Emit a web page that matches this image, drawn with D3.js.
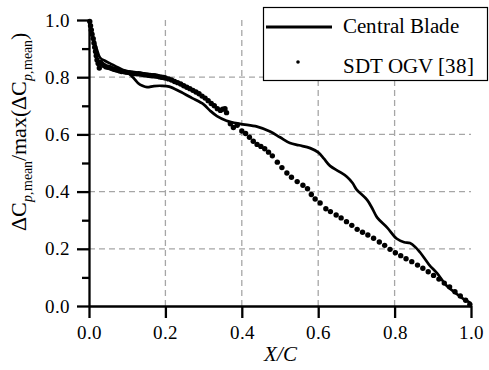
<!DOCTYPE html>
<html><head><meta charset="utf-8">
<script src="https://cdn.jsdelivr.net/npm/d3@7"></script>
<style>
@font-face{font-family:"RefSerif";font-style:normal;font-weight:400;src:local("Liberation Serif"),local("LiberationSerif"),local("Liberation Serif Regular"),local("Tinos"),local("DejaVu Serif"),local("DejaVuSerif");}
@font-face{font-family:"RefSerif";font-style:italic;font-weight:400;src:local("Liberation Serif Italic"),local("LiberationSerif-Italic"),local("DejaVu Serif Italic"),local("DejaVuSerif-Italic");}
html,body{margin:0;padding:0;background:#fff;}
svg{display:block;}
svg text{font-family:"RefSerif","Liberation Serif",serif;}
</style>
</head><body>
<svg id="chart" width="489" height="370"></svg>
<script>
// ---- data ----
const xTicks = [0.0, 0.2, 0.4, 0.6, 0.8, 1.0];
const yTicks = [0.0, 0.2, 0.4, 0.6, 0.8, 1.0];
const yMinorTicks = [0.1, 0.3, 0.5, 0.7, 0.9];
const seriesNames = ["Central Blade", "SDT OGV [38]"];

const bladeX = [0.0,0.005,0.012,0.02,0.029,0.045,0.06,0.086,0.105,0.118,0.128,0.14,0.152,0.17,0.19,0.21,0.238,0.27,0.30,0.317,0.335,0.36,0.395,0.44,0.474,0.50,0.526,0.55,0.579,0.60,0.615,0.631,0.655,0.675,0.69,0.70,0.728,0.742,0.754,0.78,0.806,0.825,0.84,0.855,0.867,0.89,0.911,0.937,0.96,0.98,1.0];
const bladeY = [1.0,0.97,0.935,0.90,0.868,0.855,0.845,0.827,0.812,0.795,0.78,0.77,0.765,0.769,0.77,0.767,0.75,0.727,0.705,0.683,0.664,0.648,0.637,0.627,0.61,0.59,0.57,0.562,0.552,0.537,0.515,0.49,0.47,0.452,0.43,0.408,0.371,0.34,0.31,0.275,0.235,0.223,0.22,0.205,0.187,0.145,0.115,0.07,0.045,0.025,0.01];

const sdtX = [0.002,0.004,0.006,0.008,0.011,0.013,0.015,0.017,0.019,0.021,0.024,0.027,0.03,0.035,0.04,0.045,0.05,0.055,0.06,0.065,0.07,0.075,0.08,0.085,0.09,0.095,0.10,0.105,0.11,0.115,0.12,0.125,0.13,0.135,0.14,0.145,0.15,0.155,0.16,0.165,0.17,0.175,0.18,0.185,0.19,0.195,
  0.20,0.208,0.216,0.224,0.232,0.24,0.248,0.256,0.264,0.272,0.28,0.288,0.296,0.304,0.312,0.32,0.328,0.336,0.344,0.35,0.356,0.36,
  0.37,0.378,0.388,0.40,0.41,0.42,0.43,0.44,0.45,0.46,0.47,
  0.48,0.493,0.505,0.518,0.53,0.545,0.56,0.572,0.582,0.592,0.605,0.62,0.632,0.647,0.66,0.674,0.688,0.702,0.716,0.73,0.745,0.76,0.774,0.788,0.802,0.816,0.83,0.845,0.86,0.874,0.888,0.902,0.916,0.93,0.944,0.958,0.972,0.986,0.997];
const sdtY = [0.995,0.98,0.965,0.95,0.935,0.92,0.905,0.89,0.875,0.86,0.848,0.832,0.852,0.845,0.84,0.836,0.835,0.833,0.83,0.828,0.826,0.824,0.822,0.82,0.82,0.818,0.817,0.816,0.815,0.814,0.813,0.812,0.812,0.811,0.81,0.809,0.808,0.807,0.806,0.805,0.805,0.804,0.803,0.801,0.80,0.799,
  0.797,0.794,0.79,0.785,0.781,0.776,0.77,0.765,0.76,0.754,0.748,0.742,0.734,0.727,0.718,0.708,0.70,0.69,0.684,0.688,0.69,0.676,
  0.637,0.624,0.632,0.612,0.603,0.59,0.576,0.565,0.558,0.55,0.538,
  0.525,0.503,0.484,0.465,0.45,0.435,0.422,0.41,0.39,0.374,0.36,0.34,0.33,0.318,0.308,0.295,0.282,0.268,0.258,0.248,0.237,0.224,0.212,0.198,0.186,0.176,0.165,0.155,0.143,0.132,0.12,0.107,0.094,0.08,0.067,0.05,0.035,0.02,0.005];

// ---- chart ----
const svg = d3.select("#chart");
const L = 89, R = 471, T = 20, B = 306;
const x = d3.scaleLinear().domain([0, 1]).range([L, R]);
const y = d3.scaleLinear().domain([0, 1]).range([B, T]);

// grid
const grid = svg.append("g").attr("stroke", "#a6a6a6").attr("stroke-width", 1.3).attr("stroke-dasharray", "6,4");
grid.selectAll(".vg").data(xTicks.filter(d => d > 0 && d < 1)).enter().append("line")
  .attr("x1", d => x(d)).attr("x2", d => x(d)).attr("y1", B).attr("y2", T);
grid.selectAll(".hg").data(yTicks.filter(d => d > 0 && d < 1)).enter().append("line")
  .attr("y1", d => y(d)).attr("y2", d => y(d)).attr("x1", L).attr("x2", R);

// data
const line = d3.line().x((d, i) => x(bladeX[i])).y((d, i) => y(bladeY[i])).curve(d3.curveCatmullRom.alpha(0.5));
svg.append("path").datum(bladeY).attr("d", line).attr("fill", "none").attr("stroke", "#000").attr("stroke-width", 2.7).attr("stroke-linejoin", "round");

svg.append("g").selectAll("circle").data(sdtX).enter().append("circle")
  .attr("cx", d => x(d)).attr("cy", (d, i) => y(sdtY[i])).attr("r", 2.7).attr("fill", "#000");

// axes
const fontTick = 19;
const xAxis = d3.axisBottom(x).tickValues(xTicks).tickFormat(d3.format(".1f")).tickSize(12).tickPadding(8).tickSizeOuter(0);
const gx = svg.append("g").attr("transform", `translate(0,${B})`).call(xAxis);
const yAxis = d3.axisLeft(y).tickValues(yTicks).tickFormat(d3.format(".1f")).tickSize(12).tickPadding(7).tickSizeOuter(0);
const gy = svg.append("g").attr("transform", `translate(${L},0)`).call(yAxis);
const yMinor = d3.axisLeft(y).tickValues(yMinorTicks).tickFormat("").tickSize(7).tickSizeOuter(0);
const gym = svg.append("g").attr("transform", `translate(${L},0)`).call(yMinor);
gym.select(".domain").remove();
[gx, gy, gym].forEach(g => {
  g.attr("font-family", null).attr("font-size", fontTick);
  g.selectAll("path.domain").attr("stroke", "#000").attr("stroke-width", 2.3);
  g.selectAll(".tick line").attr("stroke", "#000").attr("stroke-width", 2.3);
  g.selectAll(".tick text").attr("fill", "#000").attr("font-size", fontTick);
});

// axis titles
svg.append("text").attr("x", (L + R) / 2).attr("y", 361).attr("text-anchor", "middle")
  .attr("font-size", 21).attr("font-style", "italic").text("X/C");

const yl = svg.append("text").attr("transform", "translate(26,132) rotate(-90)").attr("text-anchor", "middle").attr("font-size", 22);
yl.append("tspan").text("ΔC");
yl.append("tspan").attr("font-size", 14).attr("dy", 6).attr("font-style", "italic").text("p");
yl.append("tspan").attr("font-size", 14).text(",mean");
yl.append("tspan").attr("dy", -6).text("/max(ΔC");
yl.append("tspan").attr("font-size", 14).attr("dy", 6).attr("font-style", "italic").text("p");
yl.append("tspan").attr("font-size", 14).text(",mean");
yl.append("tspan").attr("dy", -6).text(")");

// legend
const lg = svg.append("g");
lg.append("rect").attr("x", 263.5).attr("y", 7.5).attr("width", 224).attr("height", 73)
  .attr("fill", "#fff").attr("stroke", "#000").attr("stroke-width", 1.2);
lg.append("line").attr("x1", 266).attr("x2", 332).attr("y1", 27).attr("y2", 27).attr("stroke", "#000").attr("stroke-width", 3);
lg.append("circle").attr("cx", 298).attr("cy", 62).attr("r", 1.8).attr("fill", "#000");
lg.selectAll("text").data(seriesNames).enter().append("text")
  .attr("x", 343).attr("y", (d, i) => 33 + i * 40).attr("font-size", 20.5).text(d => d);
</script>
</body></html>
